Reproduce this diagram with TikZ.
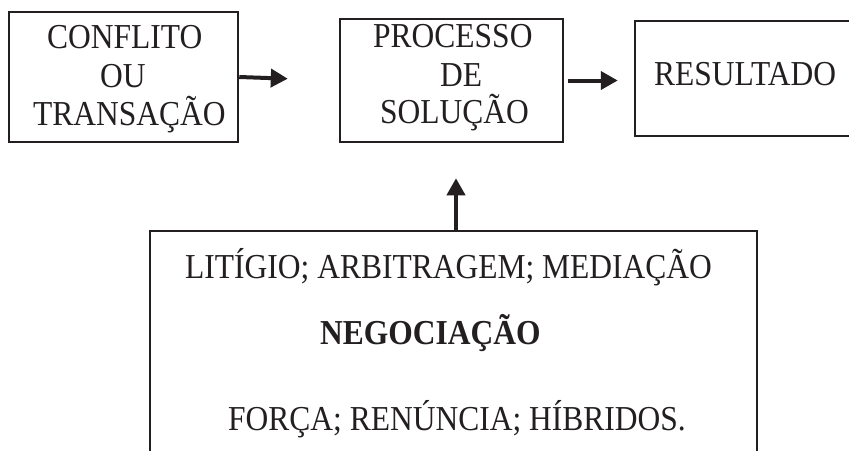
\documentclass[tikz,border=0pt]{standalone}
\usepackage{fontspec}
\setmainfont[FakeStretch=0.9]{Liberation Serif}
\usetikzlibrary{arrows.meta}
\definecolor{ink}{HTML}{231F20}
\tikzset{
  boxshape/.style={draw=ink, line width=2.5pt, rectangle, inner sep=0pt},
  lbl/.style={anchor=base west, inner sep=0pt, text=ink, font=\fontsize{35}{40}\selectfont},
  arr/.style={draw=ink, line width=4pt, -{Triangle[length=17pt,width=18pt]}}
}
\begin{document}
\begin{tikzpicture}[x=1pt,y=-1pt]
\useasboundingbox (0,0) rectangle (849,450);
\fill[white] (0,0) rectangle (849,450);
\clip (0,0) rectangle (849,450);
% boxes
\node[boxshape, minimum width=229pt, minimum height=130pt] (box1) at (123.5,77) {};
\node[boxshape, minimum width=223pt, minimum height=123pt] (box2) at (451.5,80.5) {};
\node[boxshape, minimum width=300pt, minimum height=115pt] (box3) at (785,78.5) {};
\node[boxshape, minimum width=607pt, minimum height=260pt] (box4) at (453.5,361) {};
% texts
\node[lbl] (t1a) at (47,48) {CONFLITO};
\node[lbl] (t1b) at (100,87) {OU};
\node[lbl] (t1c) at (33,125) {TRANSAÇÃO};
\node[lbl] (t2a) at (373,47) {PROCESSO};
\node[lbl] (t2b) at (440,86) {DE};
\node[lbl] (t2c) at (380,123) {SOLUÇÃO};
\node[lbl] (t3) at (654,85) {RESULTADO};
\node[lbl] (t4a) at (185,278) {LITÍGIO; ARBITRAGEM; MEDIAÇÃO};
\node[lbl, font=\fontsize{35}{40}\selectfont\bfseries] (t4b) at (320,344) {NEGOCIAÇÃO};
\node[lbl] (t4c) at (228,430) {FORÇA; RENÚNCIA; HÍBRIDOS.};
% connectors
\draw[arr, shorten >=51pt] (box1.east) -- (box2.west);
\draw[arr, shorten <=4pt, shorten >=16pt] (box2.east) -- (box3.west |- box2.east);
\coordinate (a3) at (456,231);
\draw[arr, shorten >=35pt] (a3) -- (a3 |- box2.south);
\end{tikzpicture}
\end{document}
